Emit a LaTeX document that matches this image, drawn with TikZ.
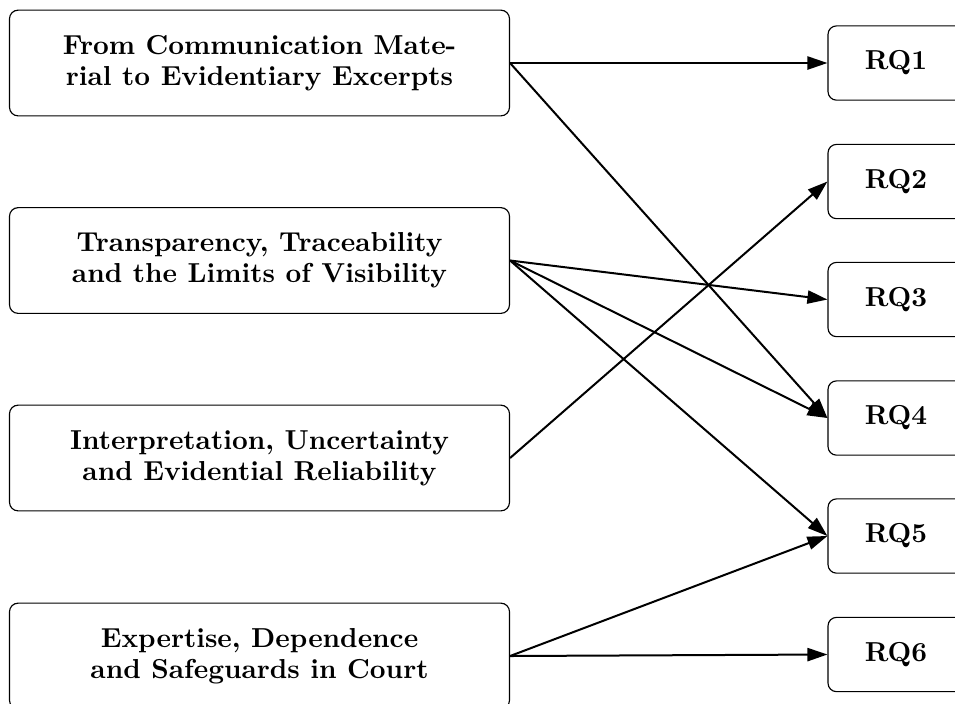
\documentclass[tikz,border=0pt]{standalone}
\usetikzlibrary{arrows.meta}
\begin{document}
\begin{tikzpicture}[x=0.35pt,y=-0.35pt,
  label font/.style={font=\fontsize{9.6}{10.9}\selectfont\bfseries},
  theme/.style={draw, rounded corners=3pt, minimum width=175pt, minimum height=37pt,
    align=center, label font, inner sep=0pt},
  rq/.style={draw, rounded corners=3pt, minimum width=47.6pt, minimum height=26pt,
    label font, inner sep=0pt},
  link/.style={-{Triangle[length=7pt,width=4.6pt]}, line width=0.7pt}]
\clip (0,0) rectangle (955,703);

% themes
\node[theme] (t1) at (259.5,63)  {From Communication Mate-\\rial to Evidentiary Excerpts};
\node[theme] (t2) at (259.5,260.5) {Transparency, Traceability\\and the Limits of Visibility};
\node[theme] (t3) at (259.5,458) {Interpretation, Uncertainty\\and Evidential Reliability};
\node[theme] (t4) at (259.5,656) {Expertise, Dependence\\and Safeguards in Court};

% research questions
\node[rq] (q1) at (896,63)    {RQ1};
\node[rq] (q2) at (896,181.5) {RQ2};
\node[rq] (q3) at (896,299.5) {RQ3};
\node[rq] (q4) at (896,418)   {RQ4};
\node[rq] (q5) at (896,536)   {RQ5};
\node[rq] (q6) at (896,654.5) {RQ6};

% links
\draw[link] (t1.east) -- (q1.west);
\draw[link] (t1.east) -- (q4.west);
\draw[link] (t2.east) -- (q3.west);
\draw[link] (t2.east) -- (q4.west);
\draw[link] (t2.east) -- (q5.west);
\draw[link] (t3.east) -- (q2.west);
\draw[link] (t4.east) -- (q5.west);
\draw[link] (t4.east) -- (q6.west);
\end{tikzpicture}
\end{document}
